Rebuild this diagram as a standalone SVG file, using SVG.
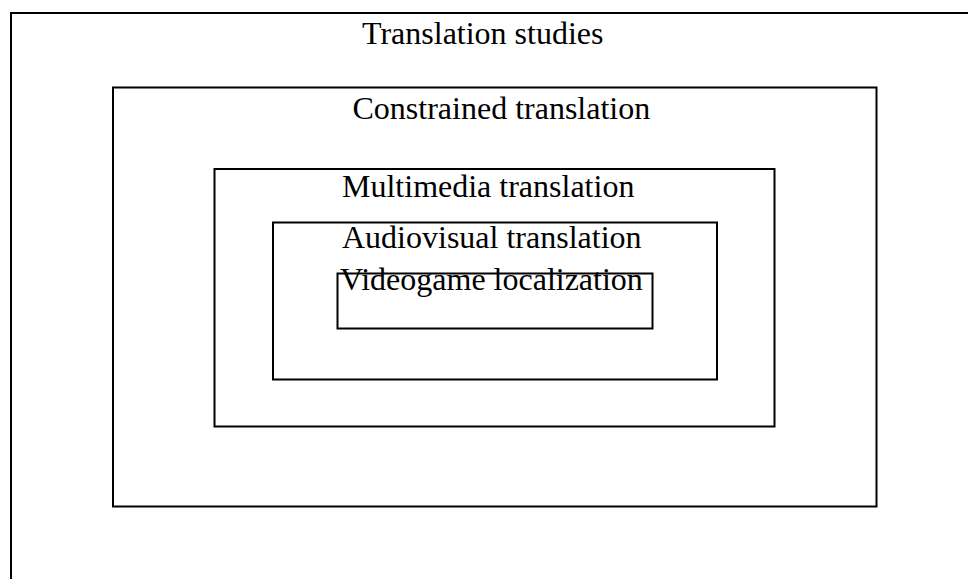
<svg xmlns="http://www.w3.org/2000/svg" width="968" height="579" viewBox="0 0 968 579">
<style>
.box{fill:none;stroke:#000;stroke-width:2}
.lbl{font-family:"Liberation Serif","Times New Roman",serif;font-size:32px;fill:#000}
</style>
<rect width="968" height="579" fill="#fff"/>
<g id="translation-studies">
<path class="box" d="M11,579 V13 H968"/>
<text class="lbl" x="362" y="43.5">Translation studies</text>
</g>
<g id="constrained-translation">
<rect class="box" x="113" y="87.5" width="763.5" height="419"/>
<text class="lbl" x="352.5" y="118.5">Constrained translation</text>
</g>
<g id="multimedia-translation">
<rect class="box" x="214.5" y="169" width="560" height="257.5"/>
<text class="lbl" x="342" y="197">Multimedia translation</text>
</g>
<g id="audiovisual-translation">
<rect class="box" x="273" y="222.5" width="444" height="157"/>
<text class="lbl" x="342" y="248">Audiovisual translation</text>
</g>
<g id="videogame-localization">
<rect class="box" x="337.5" y="273.5" width="315" height="55"/>
<text class="lbl" x="340" y="290">Videogame localization</text>
</g>
<g id="connectors"/>
</svg>
